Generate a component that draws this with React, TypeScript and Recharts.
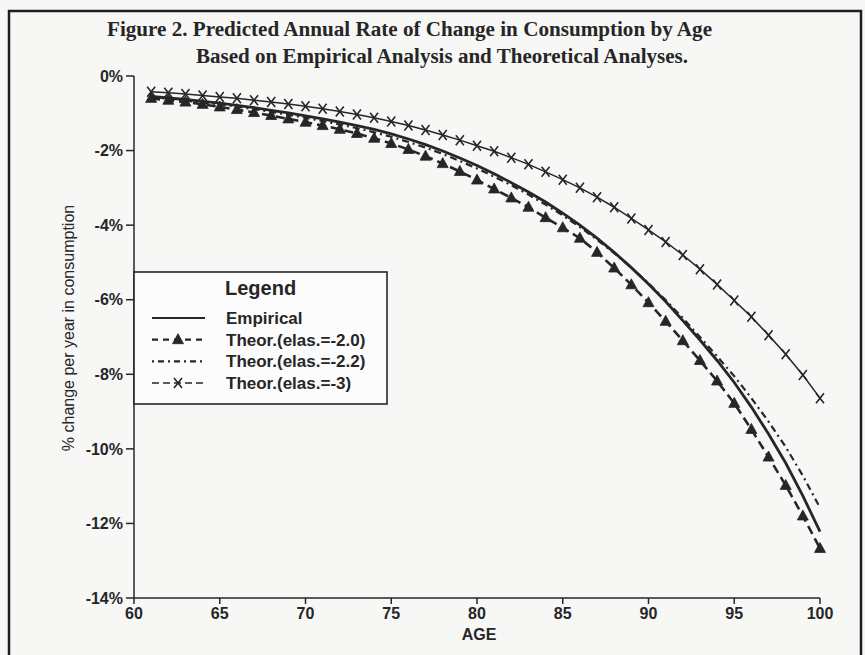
import React from "react";
import { LineChart, Line, XAxis, YAxis } from "recharts";

// ages 61..100, one reading per year
const AGES = [
  61, 62, 63, 64, 65, 66, 67, 68, 69, 70,
  71, 72, 73, 74, 75, 76, 77, 78, 79, 80,
  81, 82, 83, 84, 85, 86, 87, 88, 89, 90,
  91, 92, 93, 94, 95, 96, 97, 98, 99, 100,
];

const EMPIRICAL = [
  -0.55, -0.59, -0.63, -0.68, -0.73, -0.79, -0.85, -0.92, -0.99, -1.07,
  -1.15, -1.24, -1.33, -1.43, -1.55, -1.69, -1.84, -2.01, -2.2, -2.4,
  -2.62, -2.86, -3.11, -3.38, -3.68, -4.0, -4.35, -4.73, -5.14, -5.58,
  -6.05, -6.56, -7.08, -7.63, -8.22, -8.88, -9.6, -10.38, -11.26, -12.22,
];

const THEOR_20 = [
  -0.6, -0.65, -0.7, -0.76, -0.83, -0.9, -0.98, -1.06, -1.15, -1.24,
  -1.33, -1.43, -1.54, -1.67, -1.81, -1.97, -2.15, -2.35, -2.56, -2.79,
  -3.03, -3.27, -3.52, -3.8, -4.07, -4.35, -4.73, -5.15, -5.6, -6.08,
  -6.58, -7.1, -7.63, -8.18, -8.78, -9.48, -10.22, -10.98, -11.8, -12.67,
];

const THEOR_22 = [
  -0.57, -0.61, -0.66, -0.71, -0.76, -0.82, -0.89, -0.96, -1.04, -1.12,
  -1.21, -1.3, -1.4, -1.51, -1.63, -1.77, -1.92, -2.09, -2.28, -2.48,
  -2.7, -2.93, -3.18, -3.45, -3.74, -4.05, -4.39, -4.75, -5.14, -5.56,
  -6.01, -6.49, -7.0, -7.52, -8.05, -8.64, -9.27, -9.95, -10.72, -11.58,
];

const THEOR_30 = [
  -0.42, -0.45, -0.48, -0.52, -0.56, -0.6, -0.65, -0.7, -0.75, -0.81,
  -0.88, -0.95, -1.03, -1.12, -1.22, -1.33, -1.45, -1.58, -1.72, -1.87,
  -2.02, -2.19, -2.37, -2.57, -2.78, -3.0, -3.25, -3.52, -3.82, -4.13,
  -4.45, -4.8, -5.18, -5.59, -6.02, -6.46, -6.95, -7.46, -8.02, -8.64,
];

const X_TICKS = [60, 65, 70, 75, 80, 85, 90, 95, 100];
const Y_TICKS = [0, -2, -4, -6, -8, -10, -12, -14];

const TITLE_1 = "Figure 2. Predicted Annual Rate of Change in Consumption by Age";
const TITLE_2 = "Based on Empirical Analysis and Theoretical Analyses.";

const INK = "#262626";
const SANS = '"Liberation Sans", Arial, Helvetica, sans-serif';
const SERIF = '"Liberation Serif", "Times New Roman", serif';

const data = AGES.map((age, i) => ({
  age,
  empirical: EMPIRICAL[i],
  t20: THEOR_20[i],
  t22: THEOR_22[i],
  t30: THEOR_30[i],
}));

function Triangle({ cx, cy }: { cx: number; cy: number }) {
  return (
    <polygon
      points={`${cx},${cy - 6} ${cx + 5.5},${cy + 4} ${cx - 5.5},${cy + 4}`}
      fill={INK}
      stroke={INK}
      strokeWidth={0.8}
    />
  );
}

function Cross({ cx, cy }: { cx: number; cy: number }) {
  return (
    <path
      d={`M${cx - 4},${cy - 5}L${cx + 4},${cy + 5}M${cx + 4},${cy - 5}L${cx - 4},${cy + 5}`}
      stroke={INK}
      strokeWidth={1.6}
      fill="none"
    />
  );
}

const SERIES = [
  { key: "empirical", name: "Empirical", width: 2.8, dash: undefined, legendDash: undefined, marker: null },
  { key: "t20", name: "Theor.(elas.=-2.0)", width: 2.6, dash: "9 5", legendDash: "6 5", marker: "tri" },
  { key: "t22", name: "Theor.(elas.=-2.2)", width: 2.2, dash: "7 4 2 4", legendDash: "2 4 6 4", marker: null },
  { key: "t30", name: "Theor.(elas.=-3)", width: 1.5, dash: undefined, legendDash: "7 4", marker: "cross" },
];

function LegendBox() {
  const x0 = 134;
  const y0 = 272;
  return (
    <g>
      <rect x={x0} y={y0} width={253} height={132} fill="#fcfcfc" stroke={INK} strokeWidth={1.6} />
      <text x={225} y={295} fontFamily={SANS} fontWeight={700} fontSize={20} fill={INK}>
        Legend
      </text>
      {SERIES.map((s, i) => {
        const y = 318 + i * 21.7;
        return (
          <g key={s.key}>
            <line x1={152} x2={205} y1={y} y2={y} stroke={INK} strokeWidth={Math.min(s.width, 2.2)} strokeDasharray={s.legendDash} />
            {s.marker === "tri" && <Triangle cx={178} cy={y} />}
            {s.marker === "cross" && <Cross cx={178} cy={y} />}
            <text x={226} y={y + 6} fontFamily={SANS} fontWeight={700} fontSize={17} fill={INK}>
              {s.name}
            </text>
          </g>
        );
      })}
    </g>
  );
}

export default function App() {
  const tickStyle = { fill: INK, fontSize: 16, fontWeight: 700, fontFamily: SANS };
  return (
    <div
      style={{
        position: "absolute",
        left: 0,
        top: 0,
        width: 865,
        height: 655,
        background: "#f7f7f6",
        overflow: "hidden",
      }}
    >
      <LineChart
        width={865}
        height={655}
        data={data}
        margin={{ top: 76, right: 45, bottom: 17, left: 74 }}
      >
        <XAxis
          dataKey="age"
          type="number"
          domain={[60, 100]}
          ticks={X_TICKS}
          height={40}
          tickSize={6}
          tickMargin={4}
          tick={tickStyle}
          axisLine={{ stroke: INK, strokeWidth: 1.5 }}
          tickLine={{ stroke: INK, strokeWidth: 1.5 }}
        />
        <XAxis
          xAxisId="top"
          orientation="top"
          type="number"
          domain={[60, 100]}
          height={0}
          tick={false}
          tickLine={false}
          axisLine={{ stroke: INK, strokeWidth: 1.5 }}
        />
        <YAxis
          type="number"
          domain={[-14, 0]}
          ticks={Y_TICKS}
          width={60}
          tickSize={8}
          tickMargin={3}
          tick={tickStyle}
          tickFormatter={(v) => `${v}%`}
          axisLine={{ stroke: INK, strokeWidth: 1.5 }}
          tickLine={{ stroke: INK, strokeWidth: 1.5 }}
        />
        <YAxis
          yAxisId="right"
          orientation="right"
          type="number"
          domain={[-14, 0]}
          width={0}
          tick={false}
          tickLine={false}
          axisLine={{ stroke: INK, strokeWidth: 1.5 }}
        />
        <Line
          dataKey="t30"
          type="linear"
          stroke={INK}
          strokeWidth={1.5}
          dot={(p: any) => <Cross key={`c${p.index}`} cx={p.cx} cy={p.cy} />}
          isAnimationActive={false}
        />
        <Line
          dataKey="t22"
          type="linear"
          stroke={INK}
          strokeWidth={2.2}
          strokeDasharray="7 4 2 4"
          dot={false}
          isAnimationActive={false}
        />
        <Line
          dataKey="t20"
          type="linear"
          stroke={INK}
          strokeWidth={2.6}
          strokeDasharray="9 5"
          dot={(p: any) => <Triangle key={`t${p.index}`} cx={p.cx} cy={p.cy} />}
          isAnimationActive={false}
        />
        <Line
          dataKey="empirical"
          type="linear"
          stroke={INK}
          strokeWidth={2.8}
          dot={false}
          isAnimationActive={false}
        />
      </LineChart>

      <svg
        width={865}
        height={655}
        style={{ position: "absolute", left: 0, top: 0, pointerEvents: "none" }}
      >
        <path d="M9,655 V11 H861 V655" stroke="#1e1e1e" strokeWidth={2.5} fill="none" />
        <text x={107} y={36} fontFamily={SERIF} fontWeight={700} fontSize={20} fill={INK} textLength={605} lengthAdjust="spacingAndGlyphs">
          {TITLE_1}
        </text>
        <text x={196} y={63} fontFamily={SERIF} fontWeight={700} fontSize={20} fill={INK} textLength={492} lengthAdjust="spacingAndGlyphs">
          {TITLE_2}
        </text>
        <text
          transform="translate(68,328) rotate(-90)"
          textAnchor="middle"
          dominantBaseline="central"
          fontFamily={SANS}
          fontSize={16}
          fill={INK}
        >
          % change per year in consumption
        </text>
        <text x={479} y={634} textAnchor="middle" dominantBaseline="central" fontFamily={SANS} fontWeight={700} fontSize={16} fill={INK}>
          AGE
        </text>
        <LegendBox />
      </svg>
    </div>
  );
}
